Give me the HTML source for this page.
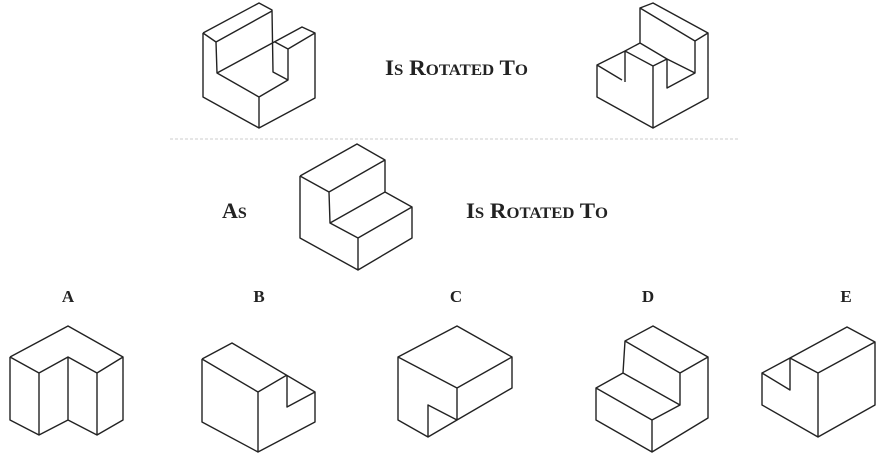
<!DOCTYPE html>
<html><head><style>
html,body{margin:0;padding:0;background:#fff;}
svg{display:block}
text{font-family:"Liberation Serif",serif;font-weight:bold;fill:#222;}
</style></head><body>
<svg width="878" height="459" viewBox="0 0 878 459" xmlns="http://www.w3.org/2000/svg">
<line x1="170" y1="139" x2="740" y2="139" stroke="#ccc" stroke-width="1" stroke-dasharray="3,2"/>
<g fill="none" stroke="#222" stroke-width="1.4" stroke-linejoin="round">
<path d="M203,33 L259,3 L272,10 L273,72 L288,80 M203,33 L216,42 L272,11 M216,42 L217,73 L302,27 L315,33 L288,49 L275,42 M288,49 L288,80 L259,97 L217,73 M203,33 L203,97 L259,128 L315,98 L315,33 M259,97 L259,128"/>
<path d="M640,8 L653,3 L708,33 L695,41 L640,8 L640,43 L625,51 L597,65 L622,80 M640,43 L667,59 L653,66 L625,51 L625,82 M653,66 L653,128 M667,59 L667,88 L695,73 L695,41 M667,59 L695,73 M708,33 L708,98 L653,128 L597,97 L597,65"/>
<path d="M300,176 L357,144 L385,160 L329,192 L300,176 M385,160 L385,192 L412,207 L358,238 L330,223 L385,192 M329,192 L330,223 M300,176 L300,238 L358,270 L412,238 L412,207 M358,238 L358,270"/>
<path d="M10,357 L68,326 L123,357 L97,373 L68,357 L39,373 L10,357 M10,357 L10,420 L39,435 L68,420 L97,435 L123,420 L123,357 M39,373 L39,435 M68,357 L68,420 M97,373 L97,435"/>
<path d="M202,359 L232,343 L315,392 L287,407 L287,375 M202,359 L258,392 L287,375 M202,359 L202,422 L258,452 L315,422 L315,392 M258,392 L258,452"/>
<path d="M398,357 L457,326 L512,357 L457,388 L398,357 L398,420 L428,437 L457,420 L512,388 L512,357 M457,388 L457,420 M428,437 L428,405 L457,420"/>
<path d="M625,341 L653,326 L708,357 L680,373 L625,341 L623,373 L596,388 L652,420 L680,405 L623,373 M680,373 L680,405 M596,388 L596,420 L652,452 L708,418 L708,357 M652,420 L652,452"/>
<path d="M790,358 L847,327 L875,342 L818,373 L790,358 L790,390 L762,373 L790,358 M762,373 L762,405 L818,437 L875,405 L875,342 M818,373 L818,437"/>
</g>
<text x="385" y="75" font-size="22" textLength="143" lengthAdjust="spacingAndGlyphs">I<tspan font-size="16">S</tspan> R<tspan font-size="16">OTATED</tspan> T<tspan font-size="16">O</tspan></text>
<text x="222" y="218" font-size="22">A<tspan font-size="16">S</tspan></text>
<text x="466" y="218" font-size="22" textLength="142" lengthAdjust="spacingAndGlyphs">I<tspan font-size="16">S</tspan> R<tspan font-size="16">OTATED</tspan> T<tspan font-size="16">O</tspan></text>
<text x="68" y="302" font-size="17" text-anchor="middle">A</text>
<text x="259" y="302" font-size="17" text-anchor="middle">B</text>
<text x="456" y="302" font-size="17" text-anchor="middle">C</text>
<text x="648" y="302" font-size="17" text-anchor="middle">D</text>
<text x="846" y="302" font-size="17" text-anchor="middle">E</text>
</svg>
</body></html>
